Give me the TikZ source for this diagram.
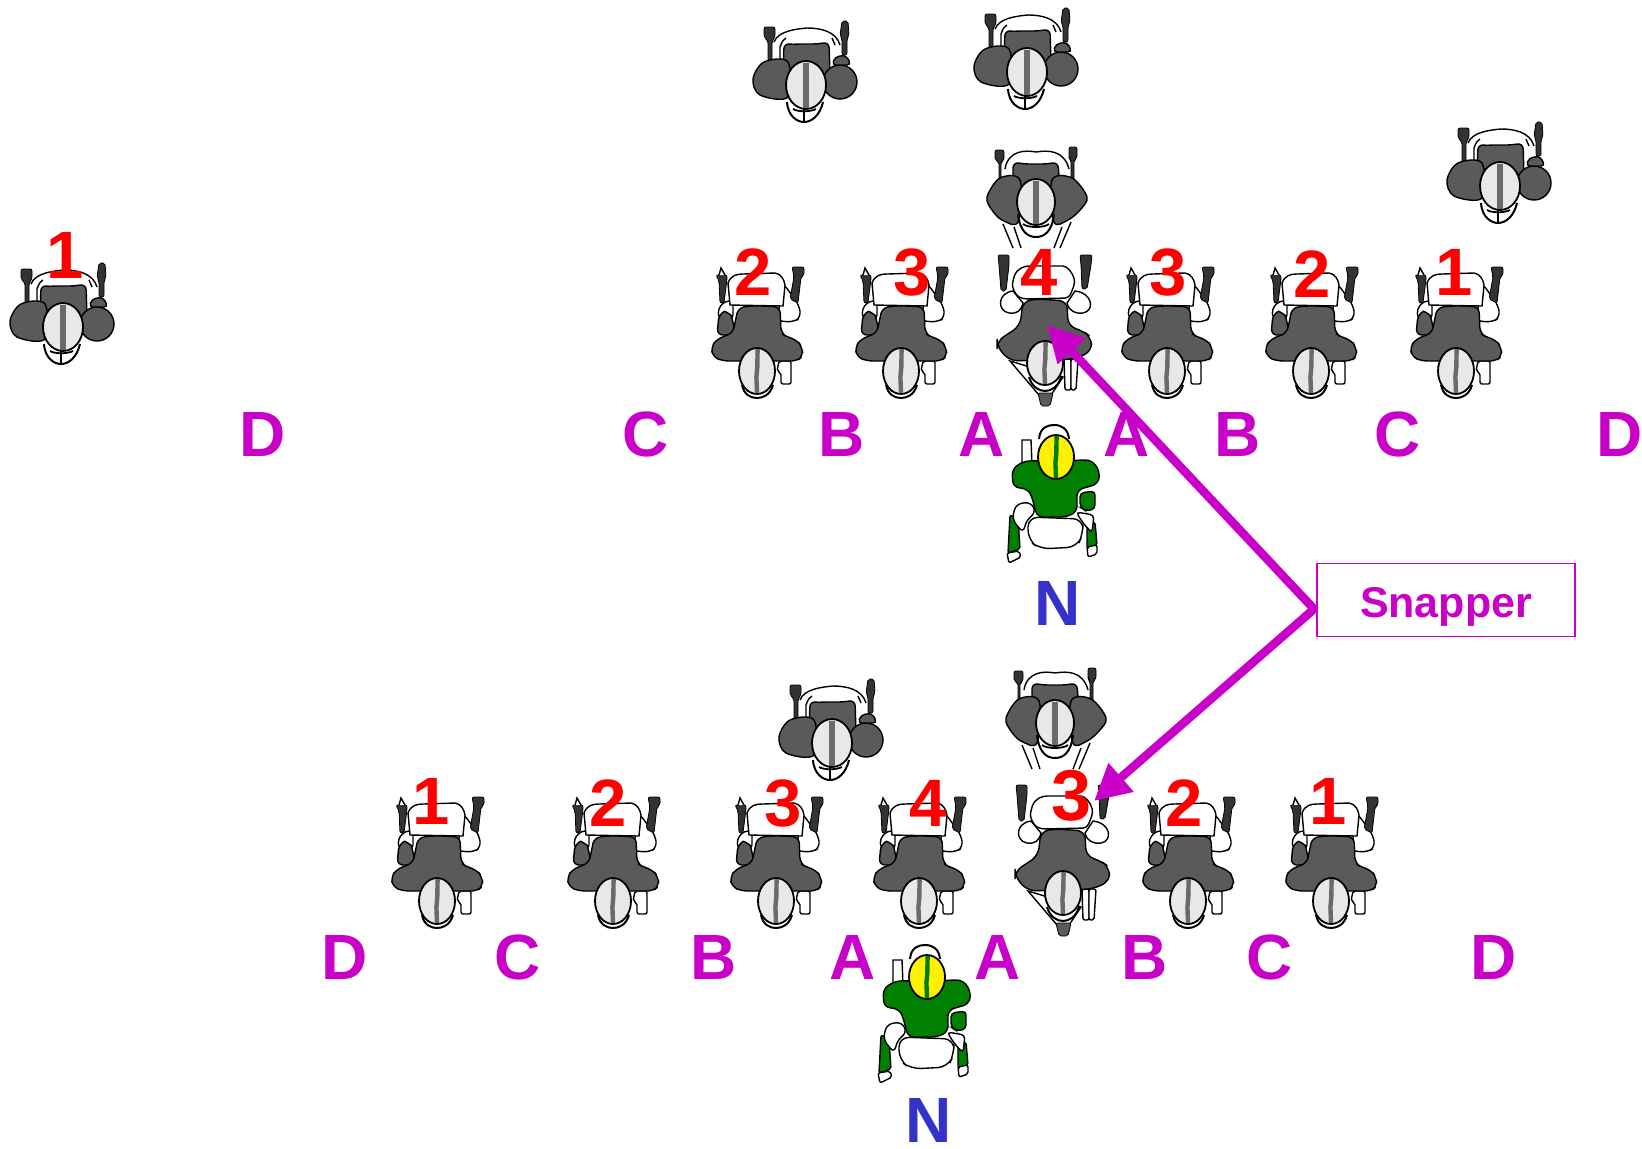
\documentclass[tikz,border=0pt]{standalone}
\usepackage{fontspec}
\setmainfont{Liberation Sans}
\usetikzlibrary{arrows.meta}
\definecolor{mag}{HTML}{C800C8}
\definecolor{nblue}{HTML}{3333CC}
\definecolor{dk}{HTML}{5A5A5A}
\definecolor{hl}{HTML}{E8E8E8}
\definecolor{st}{HTML}{6A6A6A}
\definecolor{grn}{HTML}{007F00}
\newcommand{\Hlm}[4]{%
  \draw[ol,line width=.9pt,fill=#3] (0,0) ellipse [x radius=#1, y radius=#2];
  \draw[line width=2.2pt,draw=#4] (.6,-#2+1) -- (.3,-4) -- (-.6,6) -- (0,#2-1);}
\newcommand{\HlmS}[3]{%
  \draw[ol,line width=.9pt,fill=hl] (0,0) ellipse [x radius=#1, y radius=#2];
  \draw[line width=2.6pt,draw=st] (#3,-#2+2) -- (#3,#2-1);}
\tikzset{
  ol/.style={draw=black,line width=.7pt},
  wt/.style={ol,fill=white},
  dkf/.style={ol,fill=dk},
  blk/.style={draw=black,fill=black!80,line width=.4pt,rounded corners=1pt},
  lett/.style={font=\bfseries\fontsize{32}{32}\selectfont,text=mag,inner sep=0pt,xshift=1pt},
  nlab/.style={font=\bfseries\fontsize{32}{32}\selectfont,text=nblue,inner sep=0pt,xshift=1pt},
  num/.style={font=\bfseries\fontsize{33.5}{33.5}\selectfont,text=red,inner sep=0pt,xshift=1pt},
  bignum/.style={font=\bfseries\fontsize{36}{36}\selectfont,text=red,inner sep=0pt,xshift=1pt},
  arr/.style={draw=mag,line width=4.3pt,-{Triangle[length=18pt,width=18pt]},shorten <=-1pt},
  % plain linebacker
  lbplain/.pic={
    \draw[ol] (-32,-43) .. controls (-28,-54) and (-10,-56) .. (1,-57) .. controls (14,-57) and (30,-54) .. (34,-40);
    \draw[ol] (-26,-25) -- (-26,-38) .. controls (-24,-44) and (-22,-46) .. (-20,-47) (26,-47) -- (29,-40);
    \draw[blk] (-42,-58) -- (-31,-58) -- (-31,-48) -- (-34,-44) -- (-34,-22) -- (-38,-22) -- (-38,-44) -- (-42,-48) -- cycle;
    \draw[blk] (36,-64) -- (42,-64) -- (43,-50) -- (41,-46) -- (41,-30) -- (36,-30) -- (36,-46) -- (34,-50) -- cycle;
    \draw[dkf,rounded corners=3pt] (-22,-42) to[out=-10,in=180] (0,-41) to[out=0,in=190] (23,-43) -- (24,-10) -- (-23,-10) -- cycle;
    \draw[dkf] plot[smooth cycle,tension=.55] coordinates {(-18,-23) (-42,-23) (-53,-6) (-46,10) (-18,12)};
    \draw[dkf] (34,-3) circle [radius=17];
    \draw[dkf,rounded corners=2pt] (26,-20) -- (29,-28) -- (40,-30) -- (45,-20) -- cycle;
    \draw[ol,line width=1pt] (-19,17) .. controls (-18,32) and (-8,37) .. (-2,37) .. controls (6,37) and (14,30) .. (17,17);
    \draw[ol,line width=.9pt] (-13,24) .. controls (-8,27) and (4,27) .. (10,24);
    \draw[ol] (-2,24) -- (-2,37);
    \HlmS{20}{24}{0}
  },
  % linebacker with legs behind him
  lblegs/.pic={
    \draw[ol] (-31,-33) .. controls (-28,-52) and (-10,-52) .. (0,-50) .. controls (12,-52) and (28,-52) .. (33,-33);
    \draw[ol] (-33,22) -- (-23,46);\draw[ol] (-22,25) -- (-15,46);\draw[ol] (26,25) -- (18,46);\draw[ol] (35,20) -- (24,46);
    \draw[blk] (-41,-52) -- (-32,-52) -- (-32,-42) -- (-35,-40) -- (-35,-20) -- (-37,-20) -- (-37,-40) -- (-41,-42) -- cycle;
    \draw[blk] (33,-55) -- (41,-55) -- (41,-44) -- (38,-42) -- (38,-20) -- (35,-20) -- (35,-42) -- (33,-44) -- cycle;
    \draw[dkf,rounded corners=3pt] (-23,-40) to[out=-10,in=180] (0,-38) to[out=0,in=190] (22,-40) -- (24,-10) -- (-23,-10) -- cycle;
    \draw[dkf] plot[smooth cycle,tension=.55] coordinates {(-16,-22) (-36,-24) (-49,-5) (-44,8) (-34,18) (-18,20)};
    \draw[dkf] plot[smooth cycle,tension=.55] coordinates {(16,-22) (36,-24) (51,-5) (44,8) (32,18) (18,20)};
    \draw[ol,line width=1pt] (-18,12) .. controls (-16,30) and (-8,35) .. (0,35) .. controls (8,35) and (16,30) .. (18,12);
    \draw[ol,line width=.9pt] (-13,22) .. controls (-8,26) and (8,26) .. (13,22);
    \HlmS{19}{23}{0}
  },
  % down lineman
  dline/.pic={
    \draw[wt,rounded corners=3pt] (26,-88) -- (42,-66) -- (44,-54) -- (37,-49) -- (20,-50) -- cycle;
    \draw[blk] (35,-104) -- (47,-104) -- (47,-96) -- (44,-94) -- (41,-68) -- (33,-72) -- (37,-94) -- cycle;
    \draw[wt,rounded corners=2pt] (-32,-70) -- (-39,-62) -- (-38,-52) -- (-24,-52) -- (-24,-70) -- cycle;
    \draw[blk] (-41,-96) -- (-30,-96) -- (-30,-92) -- (-33,-68) -- (-37,-68) -- (-38,-90) -- cycle;
    \draw[ol,fill=white] (-38,-96) -- (-36,-103) -- (-32,-96);
    \draw[wt] (-27,-66) -- (-29,-88) .. controls (-26,-96) and (-20,-97) .. (-14,-97) -- (18,-98) .. controls (24,-97) and (27,-92) .. (28,-86) -- (26,-65) -- cycle;
    \draw[dkf,rounded corners=3pt] (-38,-57) .. controls (-32,-60) and (-26,-56) .. (-24,-50) -- (-22,-36) -- (-40,-36) -- cycle;
    \draw[wt,rounded corners=1pt] (22,-10) -- (34,-10) -- (34,13) -- (24,13) -- (24,2) -- (20,0) -- cycle;
    \draw[dkf,rounded corners=3pt] (-19,-63) -- (-8,-65) -- (8,-65) -- (23,-64) -- (24,-38) -- (30,-34) -- (40,-31) -- (45,-24) -- (46,-15) -- (40,-10) -- (-34,-10) -- (-44,-14) -- (-46,-24) -- (-40,-32) -- (-24,-38) -- cycle;
    \draw[ol,line width=1pt] (-15,14) .. controls (-13,24) and (-6,27) .. (0,27) .. controls (6,27) and (13,24) .. (16,14);
    \draw[ol,line width=.9pt] (-10,20) -- (10,20);
    \Hlm{18}{23}{hl}{st}
  },
  % big lineman over the snapper
  bigline/.pic={
    \draw[wt] (-32,-72) .. controls (-48,-70) and (-48,-52) .. (-36,-50) .. controls (-28,-49) and (-24,-52) .. (-22,-60) -- cycle;
    \draw[wt] (30,-72) .. controls (48,-70) and (50,-52) .. (38,-50) .. controls (30,-49) and (24,-52) .. (22,-60) -- cycle;
    \draw[blk] (-47,-108) -- (-36,-108) -- (-36,-98) -- (-39,-72) -- (-44,-72) -- (-46,-98) -- cycle;
    \draw[blk] (35,-108) -- (47,-108) -- (46,-98) -- (42,-74) -- (37,-74) -- (36,-98) -- cycle;
    \draw[wt,rounded corners=2pt] (-22,-64) .. controls (-30,-68) and (-33,-76) .. (-32,-83) .. controls (-28,-95) and (-20,-97) .. (-12,-97) -- (14,-97) .. controls (22,-97) and (28,-90) .. (30,-80) -- (24,-65) -- cycle;
    \draw[wt] (-35,-2) -- (-6,32) -- (6,32) -- (18,14) -- cycle;
    \draw[wt,rounded corners=1pt] (19,-4) -- (26,-4) -- (26,27) -- (20,27) -- cycle;
    \draw[wt,rounded corners=1pt] (26,-4) -- (33,-4) -- (31,27) -- (26,27) -- cycle;
    \draw[blk,fill=dk] (-7,30) -- (8,30) -- (5,43) -- (-4,43) -- cycle;
    \draw[dkf,rounded corners=4pt] (-22,-62) -- (-8,-64) -- (8,-63) -- (22,-62) -- (23,-37) -- (38,-32) -- (46,-26) -- (47,-12) -- (30,-4) -- (-35,-2) -- (-48,-16) -- (-48,-22) -- (-25,-37) -- cycle;
    \draw[ol,line width=1pt] (-16,14) .. controls (-13,24) and (-6,28) .. (0,28) .. controls (6,28) and (13,24) .. (16,14);
    \Hlm{18}{22}{hl}{st}
  },
  % the offensive centre
  centre/.pic={
    \draw[ol,line width=1pt,fill=white] (-17,-18) .. controls (-16,-30) and (-8,-32) .. (-2,-32) .. controls (6,-32) and (12,-28) .. (13,-18);
    \draw[wt] (-34,-17) -- (-25,-17) -- (-24,8) -- (-34,8) -- cycle;
    \draw[ol,fill=grn,rounded corners=1pt] (-46,58) -- (-38,62) -- (-36,92) -- (-48,96) -- cycle;
    \draw[ol,fill=grn,rounded corners=1pt] (31,65) -- (39,65) -- (41,88) -- (31,92) -- cycle;
    \draw[wt,rounded corners=1pt] (-49,96) -- (-37,94) -- (-35,100) -- (-47,106) -- cycle;
    \draw[wt,rounded corners=1pt] (31,90) -- (41,88) -- (41,97) -- (32,100) -- cycle;
    \draw[wt,rounded corners=3pt] (-44,62) -- (-40,47) -- (-25,45) -- (-20,56) -- (-29,62) -- (-33,76) -- cycle;
    \draw[wt,rounded corners=2pt] (20,55) -- (38,58) -- (36,76) -- (27,66) -- cycle;
    \draw[wt,rounded corners=5pt] (-28,60) -- (27,62) -- (27,77) -- (21,90) -- (-16,92) -- (-28,83) -- cycle;
    \draw[ol,fill=grn,rounded corners=2pt] (24,36) -- (39,34) -- (39,52) -- (30,54) -- (24,50) -- cycle;
    \draw[ol,fill=grn,rounded corners=3pt] (-44,12) -- (-32,4) -- (36,3) -- (44,15) -- (42,27) -- (21,33) -- (21,55) -- (10,60) -- (-19,60) -- (-24,40) -- (-28,32) -- (-43,30) -- cycle;
    \Hlm{18}{22}{yellow}{grn}
  }
}
\begin{document}
\begin{tikzpicture}[x=0.5pt,y=-0.5pt]
\useasboundingbox (0,0) rectangle (1642,1148);
% linebackers
\pic at (806,85) {lbplain};
\pic at (1027,72) {lbplain};
\pic at (1500,186) {lbplain};
\pic at (63,327) {lbplain};
\pic at (832,743) {lbplain};
\pic at (1036,202) {lblegs};
\pic at (1055,723) {lblegs};
% upper line
\pic at (757,371) {dline};
\pic at (901,371) {dline};
\pic at (1045,363) {bigline};
\pic at (1167,371) {dline};
\pic at (1311,371) {dline};
\pic at (1456,371) {dline};
% lower line
\pic at (437,901) {dline};
\pic at (613,901) {dline};
\pic at (776,901) {dline};
\pic at (919,901) {dline};
\pic at (1063,893) {bigline};
\pic at (1188,901) {dline};
\pic at (1331,901) {dline};
% centres
\pic at (1056,457) {centre};
\pic at (927,977) {centre};
% gap letters
\foreach \nm/\t/\x/\y in {ua/D/261/434,ub/C/644/434,uc/B/840/434,ud/A/980/434,ue/A/1125/434,uf/B/1236/434,ug/C/1396/434,uh/D/1618/434,
  la/D/343/957,lb/C/516/957,lc/B/712/957,ld/A/851/957,le/A/996/957,lf/B/1143/957,lg/C/1268/957,lh/D/1492/957}
  \node[lett] (\nm) at (\x,\y) {\t};
\node[nlab] (n1) at (1056,603) {N};
\node[nlab] (n2) at (927,1120) {N};
% technique numbers
\foreach \nm/\t/\x/\y in {t0/1/63/255,t1/2/751/272,t2/3/910/272,t3/4/1037/272,t4/3/1166/272,t5/2/1310/274,t6/1/1452/272,
  b0/1/429/801,b1/2/606/803,b2/3/781/803,b3/4/926/803,b5/2/1182/803,b6/1/1326/801}
  \node[num] (\nm) at (\x,\y) {\t};
\node[bignum] (b4) at (1070,796) {3};
% callout
\node[draw=mag,line width=.9pt,minimum width=129pt,minimum height=36.5pt,inner sep=0pt,
  text=mag,font=\bfseries\fontsize{21.5}{21.5}\selectfont] (snap) at (1446,600) {\smash{\raisebox{-8.5pt}{Snapper}}};
\coordinate (src) at (1314,609);
\coordinate (tipa) at (1047,325);
\coordinate (tipb) at (1094,801);
\draw[arr] (src) -- (tipa);
\draw[arr] (src) -- (tipb);
\end{tikzpicture}
\end{document}
